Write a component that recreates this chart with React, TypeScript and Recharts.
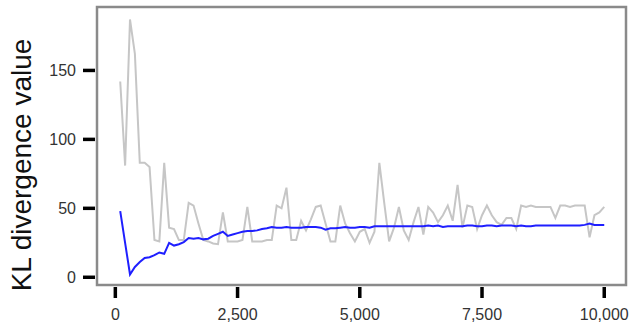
import { LineChart, Line, XAxis, YAxis, ReferenceArea } from 'recharts'

const iterations = [
  100, 200, 300, 400, 500, 600, 700, 800, 900, 1000,
  1100, 1200, 1300, 1400, 1500, 1600, 1700, 1800, 1900, 2000,
  2100, 2200, 2300, 2400, 2500, 2600, 2700, 2800, 2900, 3000,
  3100, 3200, 3300, 3400, 3500, 3600, 3700, 3800, 3900, 4000,
  4100, 4200, 4300, 4400, 4500, 4600, 4700, 4800, 4900, 5000,
  5100, 5200, 5300, 5400, 5500, 5600, 5700, 5800, 5900, 6000,
  6100, 6200, 6300, 6400, 6500, 6600, 6700, 6800, 6900, 7000,
  7100, 7200, 7300, 7400, 7500, 7600, 7700, 7800, 7900, 8000,
  8100, 8200, 8300, 8400, 8500, 8600, 8700, 8800, 8900, 9000,
  9100, 9200, 9300, 9400, 9500, 9600, 9700, 9800, 9900, 10000,
]

// grey: per-window KL value
const klWindow = [
  142, 81, 187, 162, 83, 83, 80, 27, 26, 83,
  36, 35, 27, 27, 54, 52, 39, 27, 26, 24.5,
  24, 47, 26, 26, 26, 27, 51, 26, 26, 26,
  27, 27, 52, 50, 65, 27, 27, 41, 34, 42,
  51, 52, 39, 26, 26, 52, 39, 32, 26, 33,
  35, 25, 33, 83, 54, 26, 36, 51, 34, 27,
  40, 51, 31, 51, 47, 40, 45, 52, 41, 67,
  36, 52, 51, 35, 45, 52, 45, 40, 38, 43,
  43, 35, 52, 51, 52, 51, 51, 51, 51, 43,
  52, 52, 51, 52, 52, 52, 29, 45, 47, 51,
]

// blue: cumulative KL value
const klCumulative = [
  48, 25, 2, 7.5, 11, 14, 14.5, 16, 18, 17,
  25, 23, 24, 25.5, 28.5, 28, 28.5, 27.5, 28, 30,
  31.5, 33, 30, 31, 32, 33, 33.5, 33.5, 34, 35,
  35.5, 36.5, 36, 36, 36.5, 36, 36, 36, 36.5, 36.5,
  36.5, 36, 34.5, 35.5, 35.5, 36, 36.5, 36, 36, 36.5,
  36.5, 36, 37, 37, 37, 37, 37, 37, 37, 37,
  37, 37, 37, 37.5, 37, 37.5, 36.5, 37, 37, 37,
  37, 37.5, 37.5, 37, 37, 37.5, 37.5, 37, 37.5, 37.5,
  37.5, 37, 37.5, 37, 37, 37.5, 37.5, 37.5, 37.5, 37.5,
  37.5, 37.5, 37.5, 37.5, 37.5, 38, 39, 38, 38, 38,
]

const xTicks = [0, 2500, 5000, 7500, 10000]
const yTicks = [0, 50, 100, 150]

const X_DOMAIN: [number, number] = [-375, 10445]
const Y_DOMAIN: [number, number] = [-5.6, 196]

const data = iterations.map((it, i) => ({
  it,
  window: klWindow[i],
  cumulative: klCumulative[i],
}))

const FONT = '"Liberation Sans", Arial, sans-serif'

const fmt = (v: number) => v.toLocaleString('en-US')

function XTick({ x, y, payload }: any) {
  return (
    <g>
      <line x1={x} x2={x} y1={y + 2} y2={y + 13} stroke="#000" strokeWidth={3.5} />
      <text x={x} y={y + 35} textAnchor="middle" fontSize={16} fill="#333" fontFamily={FONT}>
        {fmt(payload.value)}
      </text>
    </g>
  )
}

function YTick({ x, y, payload }: any) {
  return (
    <g>
      <line x1={x - 14} x2={x - 2} y1={y} y2={y} stroke="#000" strokeWidth={3.5} />
      <text x={x - 21} y={y + 6} textAnchor="end" fontSize={16} fill="#333" fontFamily={FONT}>
        {payload.value}
      </text>
    </g>
  )
}

export default function App() {
  return (
    <div style={{ position: 'absolute', left: 0, top: 0, background: '#fff' }}>
      <LineChart
        width={631}
        height={331}
        data={data}
        margin={{ top: 7, right: 5, bottom: 0, left: 0 }}
      >
        <XAxis
          dataKey="it"
          type="number"
          domain={X_DOMAIN}
          ticks={xTicks}
          allowDataOverflow
          axisLine={false}
          tickLine={false}
          tickSize={0}
          tickMargin={0}
          height={46}
          tick={<XTick />}
        />
        <YAxis
          type="number"
          domain={Y_DOMAIN}
          ticks={yTicks}
          allowDataOverflow
          axisLine={false}
          tickLine={false}
          tickSize={0}
          tickMargin={0}
          width={97}
          tick={<YTick />}
          label={{
            content: () => (
              <text
                x={31}
                y={165}
                transform="rotate(-90 31 165)"
                textAnchor="middle"
                fontSize={28}
                fill="#111"
                fontFamily={FONT}
              >
                KL divergence value
              </text>
            ),
          }}
        />
        <Line
          type="linear"
          dataKey="window"
          stroke="#c6c6c6"
          strokeWidth={2}
          dot={false}
          isAnimationActive={false}
        />
        <Line
          type="linear"
          dataKey="cumulative"
          stroke="#1f1fff"
          strokeWidth={2}
          dot={false}
          isAnimationActive={false}
        />
        <ReferenceArea
          x1={X_DOMAIN[0]}
          x2={X_DOMAIN[1]}
          y1={Y_DOMAIN[0]}
          y2={Y_DOMAIN[1]}
          fill="none"
          stroke="#8a8a8a"
          strokeWidth={2.5}
        />
      </LineChart>
    </div>
  )
}
